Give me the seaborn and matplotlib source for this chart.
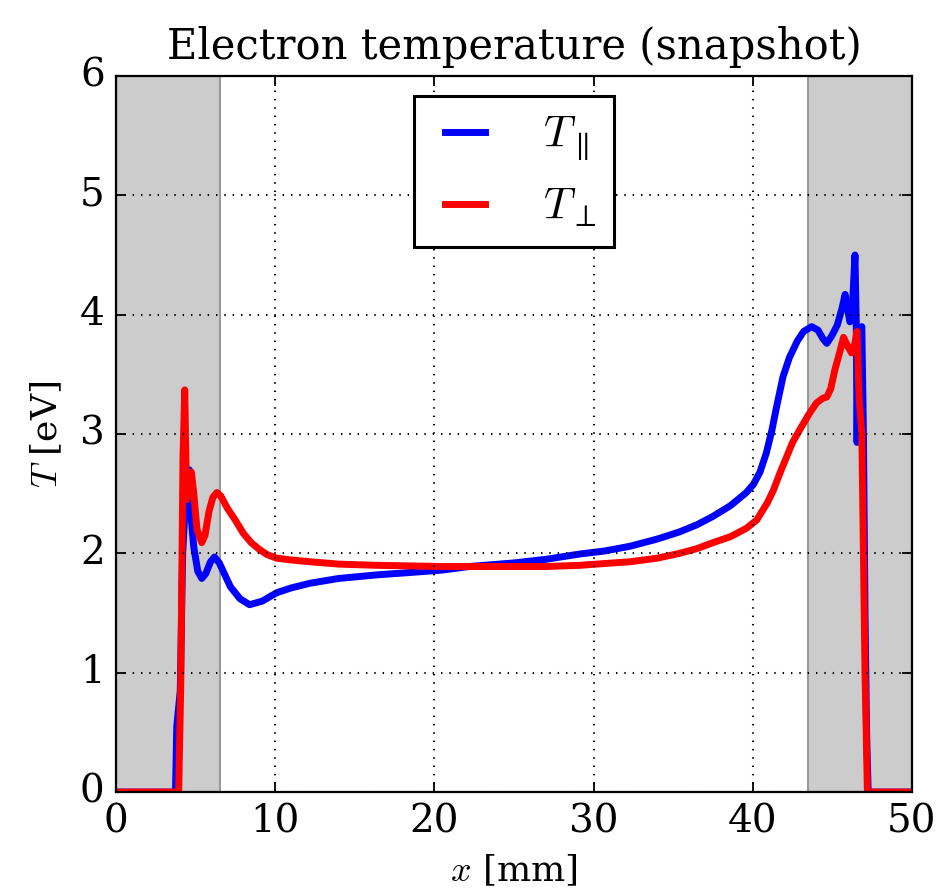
import numpy as np
import pandas as pd
import matplotlib
matplotlib.use('Agg')
import matplotlib.pyplot as plt
import seaborn as sns

# T_parallel (blue)
x_par = [0, 3.75, 3.83, 4.05, 4.2, 4.4, 4.62, 4.68, 4.9, 5.15, 5.4, 5.65, 5.95, 6.2,
         6.5, 6.85, 7.2, 7.8, 8.4, 9.2, 10.1, 11, 12.2, 14, 16.4, 18.5, 20.5, 22.2,
         25, 27, 29.15, 30.7, 32.3, 34, 35.4, 36.5, 37.5, 38.6, 39.6, 40.05, 40.45,
         40.85, 41.2, 41.5, 41.9, 42.3, 42.8, 43.2, 43.7, 44.1, 44.4, 44.65, 44.95,
         45.3, 45.6, 45.8, 45.95, 46.1, 46.25, 46.42, 46.5, 46.55, 46.62, 46.85,
         46.95, 47.05, 47.15, 47.25, 50]
t_par = [0, 0, 0.55, 0.85, 2.0, 2.5, 2.7, 2.38, 2.05, 1.85, 1.79, 1.83, 1.93, 1.97,
         1.92, 1.82, 1.72, 1.62, 1.57, 1.6, 1.67, 1.71, 1.75, 1.79, 1.82, 1.84, 1.86, 1.89,
         1.92, 1.95, 1.995, 2.02, 2.06, 2.12, 2.18, 2.24, 2.31, 2.40, 2.51, 2.58, 2.68,
         2.84, 3.03, 3.23, 3.48, 3.64, 3.78, 3.86, 3.9, 3.87, 3.8, 3.76, 3.82,
         3.91, 4.05, 4.17, 4.05, 3.94, 4.05, 4.5, 3.93, 2.93, 3.88, 3.9,
         3.0, 1.5, 0.5, 0, 0]

# T_perp (red)
x_perp = [0, 3.95, 4.08, 4.22, 4.33, 4.45, 4.6, 4.75, 4.9, 5.1, 5.4, 5.6, 5.85, 6.1,
          6.35, 6.6, 7.0, 7.5, 8.0, 8.5, 9.05, 9.5, 10.1, 11, 12.2, 14, 16.4, 18.5,
          20.5, 22.2, 25, 27, 29.15, 30.7, 32.3, 34, 35.4, 36.5, 37.5, 38.6, 39.6,
          40.25, 40.9, 41.3, 41.7, 42.1, 42.5, 42.97, 43.5, 44.0, 44.4, 44.65, 44.9,
          45.16, 45.45, 45.7, 45.95, 46.2, 46.4, 46.55, 46.68, 46.85, 47.05, 47.2, 50]
t_perp = [0, 0, 0.9, 2.8, 3.37, 2.45, 2.6, 2.68, 2.5, 2.2, 2.09, 2.15, 2.35, 2.47,
          2.51, 2.48, 2.38, 2.28, 2.17, 2.09, 2.03, 1.99, 1.96, 1.945, 1.93, 1.91, 1.90, 1.895,
          1.89, 1.89, 1.89, 1.89, 1.90, 1.915, 1.93, 1.96, 2.0, 2.04, 2.09, 2.14, 2.21,
          2.28, 2.42, 2.53, 2.67, 2.8, 2.93, 3.04, 3.16, 3.26, 3.30, 3.31, 3.38,
          3.54, 3.68, 3.81, 3.74, 3.68, 3.75, 3.86, 3.3, 3.0, 1.0, 0, 0]

# shaded regions
shade_left = (0, 6.55)
shade_right = (43.47, 50)

plt.style.use('classic')
plt.rcParams['font.family'] = 'serif'
plt.rcParams['font.serif'] = ['DejaVu Serif']
plt.rcParams['mathtext.fontset'] = 'cm'
plt.rcParams['figure.facecolor'] = 'white'
plt.rcParams['savefig.facecolor'] = 'white'
plt.rcParams['axes.linewidth'] = 1.6
plt.rcParams['xtick.major.size'] = 7
plt.rcParams['ytick.major.size'] = 7
plt.rcParams['xtick.major.width'] = 1.3
plt.rcParams['ytick.major.width'] = 1.3

fig = plt.figure(figsize=(9.49, 8.94), dpi=100)
ax = fig.add_axes([0.122, 0.114, 0.839, 0.801])

ax.axvspan(*shade_left, facecolor='0.8', edgecolor='0.6', lw=1.5)
ax.axvspan(*shade_right, facecolor='0.8', edgecolor='0.6', lw=1.5)

sns.lineplot(x=x_par, y=t_par, color='blue', lw=5, label=r'$T_\parallel$',
             sort=False, estimator=None, ax=ax)
sns.lineplot(x=x_perp, y=t_perp, color='red', lw=5, label=r'$T_\perp$',
             sort=False, estimator=None, ax=ax)

ax.set_xlim(0, 50)
ax.set_ylim(0, 6)
ax.set_xticks(range(0, 51, 10))
ax.set_yticks(range(0, 7))
ax.tick_params(labelsize=28, pad=8)
ax.grid(True, color='k', linestyle=(0, (1, 5)), linewidth=1.5)
ax.set_title('Electron temperature (snapshot)', fontsize=30, pad=12)
ax.set_xlabel(r'$x$ [mm]', fontsize=26, labelpad=9)
ax.set_ylabel(r'$T$ [eV]', fontsize=26, labelpad=11)

leg = ax.legend(loc='upper center', fontsize=32, handlelength=1.5, handletextpad=1.0,
                borderpad=0.4, labelspacing=0.5, fancybox=False, borderaxespad=0.45,
                numpoints=2)
leg.get_frame().set_edgecolor('black')
leg.get_frame().set_linewidth(2.2)

fig.savefig('out.png', dpi=100)
